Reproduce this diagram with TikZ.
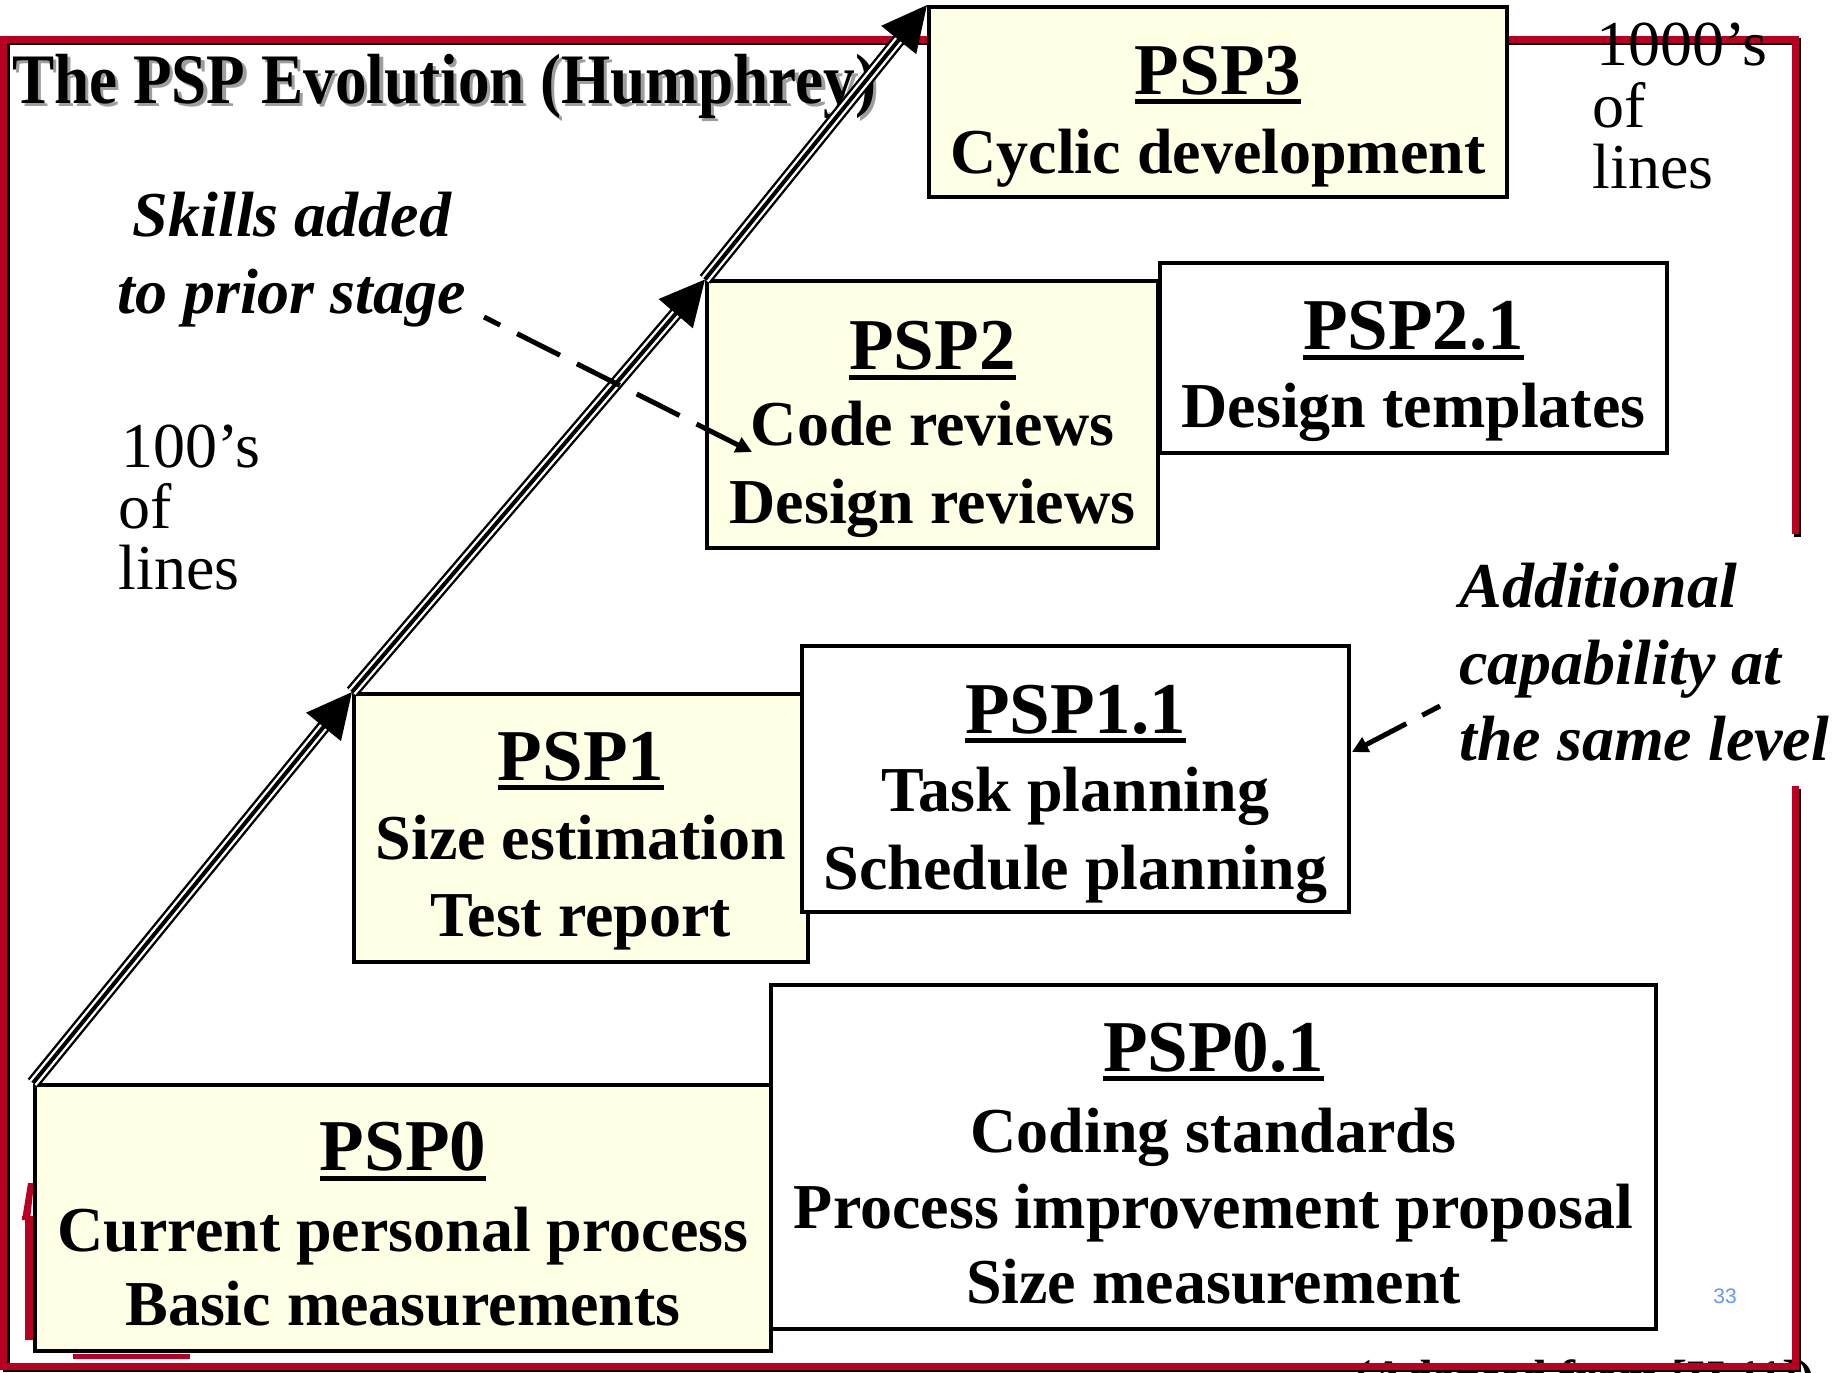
\documentclass[tikz,border=0pt]{standalone}
\usepackage{fontspec}
\setmainfont{Liberation Serif}
\setsansfont{Liberation Sans}
\newfontfamily\headfont[FakeStretch=0.89]{Liberation Serif}
\usetikzlibrary{arrows.meta}

\definecolor{framered}{RGB}{185,0,35}
\definecolor{cream}{RGB}{255,255,230}
\definecolor{pageblue}{RGB}{100,150,255}

% underlined box heading
\newcommand\ulin[1]{\setbox0=\hbox{#1}\rlap{\rule[-5pt]{\wd0}{2.3pt}}\box0}

\tikzset{
  ybox/.style={draw, line width=2pt, fill=cream, inner sep=0pt},
  wbox/.style={draw, line width=2pt, fill=white, inner sep=0pt},
  boxhead/.style={anchor=base, inner sep=0pt, font=\fontsize{36.5}{40}\selectfont\bfseries},
  boxline/.style={anchor=base, inner sep=0pt, font=\fontsize{32}{36}\selectfont\bfseries},
  note/.style={anchor=base west, inner sep=0pt, font=\fontsize{32}{36}\selectfont\bfseries\itshape},
  scale label/.style={anchor=base west, inner sep=0pt, font=\fontsize{32}{36}\selectfont},
  frameline/.style={line width=3.5pt, line join=miter, line cap=butt},
  stage/.style={line width=2pt, -{Triangle[length=22.5pt,width=22pt]},
    preaction={draw, -, line width=1.2pt, double=white, double distance=4.4pt, shorten >=15pt}},
  skill/.style={line width=2.5pt, -{Triangle[length=8pt,width=8pt]}},
}

\begin{document}
\begin{tikzpicture}[x=0.5pt,y=-0.5pt]
\clip (0,0) rectangle (1839,1372);
\fill[white] (0,0) rectangle (1839,1372);

% source line, partly under the frame
\node[anchor=base west, inner sep=0pt, font=\fontsize{24}{28}\selectfont\bfseries] (credit) at (1355,1393) {(Adapted from [H 11])};

% slide frame with its shadow
\draw[frameline, black, shift={(2.5,2.5)}] (1795,534) -- (1795,39) -- (3.5,39) -- (3.5,1366) -- (1795,1366) -- (1795,786);
\draw[frameline, framered] (1795,534) -- (1795,39) -- (3.5,39) -- (3.5,1366) -- (1795,1366) -- (1795,786);

% red marks of the slide template
\fill[framered] (22,1220) -- (28,1183) -- (34,1183) -- (30,1220) -- cycle;
\fill[framered] (22,1216) rectangle (34,1220);
\fill[framered] (25,1220) rectangle (33,1340);
\fill[framered] (73,1354) rectangle (190,1359);

% heading
\node[anchor=base west, inner sep=0pt, font=\headfont\fontsize{35.5}{40}\selectfont\bfseries, text=black!38] at (15,106) {The PSP Evolution (Humphrey)};
\node[anchor=base west, inner sep=0pt, font=\headfont\fontsize{35.5}{40}\selectfont\bfseries] (title) at (11.7,103) {The PSP Evolution (Humphrey)};

% level 0
\node[wbox, minimum width=442.5pt, minimum height=172pt] (psp01) at (1213.5,1157) {};
\node[boxhead] (psp01h) at (1213.5,1071) {\ulin{PSP0.1}};
\node[boxline] (psp01a) at (1213.5,1152) {Coding standards};
\node[boxline] (psp01b) at (1213.5,1228) {Process improvement proposal};
\node[boxline] (psp01c) at (1213.5,1303) {Size measurement};

\node[ybox, minimum width=368pt, minimum height=133pt] (psp0) at (403,1218) {};
\node[boxhead] (psp0h) at (403,1170.5) {\ulin{PSP0}};
\node[boxline] (psp0a) at (403,1251.5) {Current personal process};
\node[boxline] (psp0b) at (403,1325.5) {Basic measurements};

% level 1
\node[ybox, minimum width=227pt, minimum height=134pt] (psp1) at (581,828) {};
\node[boxhead] (psp1h) at (581,780) {\ulin{PSP1}};
\node[boxline] (psp1a) at (581,859.5) {Size estimation};
\node[boxline] (psp1b) at (581,936) {Test report};

\node[wbox, minimum width=273.5pt, minimum height=133pt] (psp11) at (1075.5,779) {};
\node[boxhead] (psp11h) at (1075.5,733) {\ulin{PSP1.1}};
\node[boxline] (psp11a) at (1075.5,811.5) {Task planning};
\node[boxline] (psp11b) at (1075.5,889) {Schedule planning};

% level 2
\node[ybox, minimum width=225.5pt, minimum height=133.25pt] (psp2) at (932.5,414.7) {};
\node[boxhead] (psp2h) at (932.5,369.5) {\ulin{PSP2}};
\node[boxline] (psp2a) at (932.5,445.5) {Code reviews};
\node[boxline] (psp2b) at (932.5,523) {Design reviews};

\node[wbox, minimum width=253.5pt, minimum height=95pt] (psp21) at (1413.5,358) {};
\node[boxhead] (psp21h) at (1413.5,349.5) {\ulin{PSP2.1}};
\node[boxline] (psp21a) at (1413.5,427) {Design templates};

% level 3
\node[ybox, minimum width=289pt, minimum height=95pt] (psp3) at (1218,102) {};
\node[boxhead] (psp3h) at (1218,94) {\ulin{PSP3}};
\node[boxline] (psp3a) at (1218,173.5) {Cyclic development};

% progression between the stages
\draw[stage] (psp0.north west) -- (psp1.north west);
\draw[stage] (psp1.north west) -- (psp2.north west);
\draw[stage] (psp2.north west) -- (psp3.north west);

% program size labels
\node[scale label] (hund1) at (121,467) {100’s};
\node[scale label] (hund2) at (118.5,528) {of};
\node[scale label] (hund3) at (118.5,589) {lines};
\node[scale label] (thou1) at (1596,65) {1000’s};
\node[scale label] (thou2) at (1592,127) {of};
\node[scale label] (thou3) at (1592,188) {lines};

% notes
\node[note] (skills1) at (132.5,236) {Skills added};
\node[note] (skills2) at (117,313) {to prior stage};
\node[note] (addl1) at (1459,607) {Additional};
\node[note] (addl2) at (1459,684) {capability at};
\node[note] (addl3) at (1459,760) {the same level};

\coordinate (skillsfrom) at (484,317);
\coordinate (skillsto) at (752,452);
\coordinate (addlfrom) at (1440,706);
\coordinate (addlto) at (1352,752);
\draw[skill, dash pattern=on 24pt off 9.5pt, dash phase=15pt] (skillsfrom) -- (skillsto);
\draw[skill, dash pattern=on 24pt off 9pt, dash phase=14pt] (addlfrom) -- (addlto);

% slide number
\node[inner sep=0pt, font=\sffamily\fontsize{10.5}{12}\selectfont, text=pageblue] (pagenum) at (1725,1296) {33};
\end{tikzpicture}
\end{document}
